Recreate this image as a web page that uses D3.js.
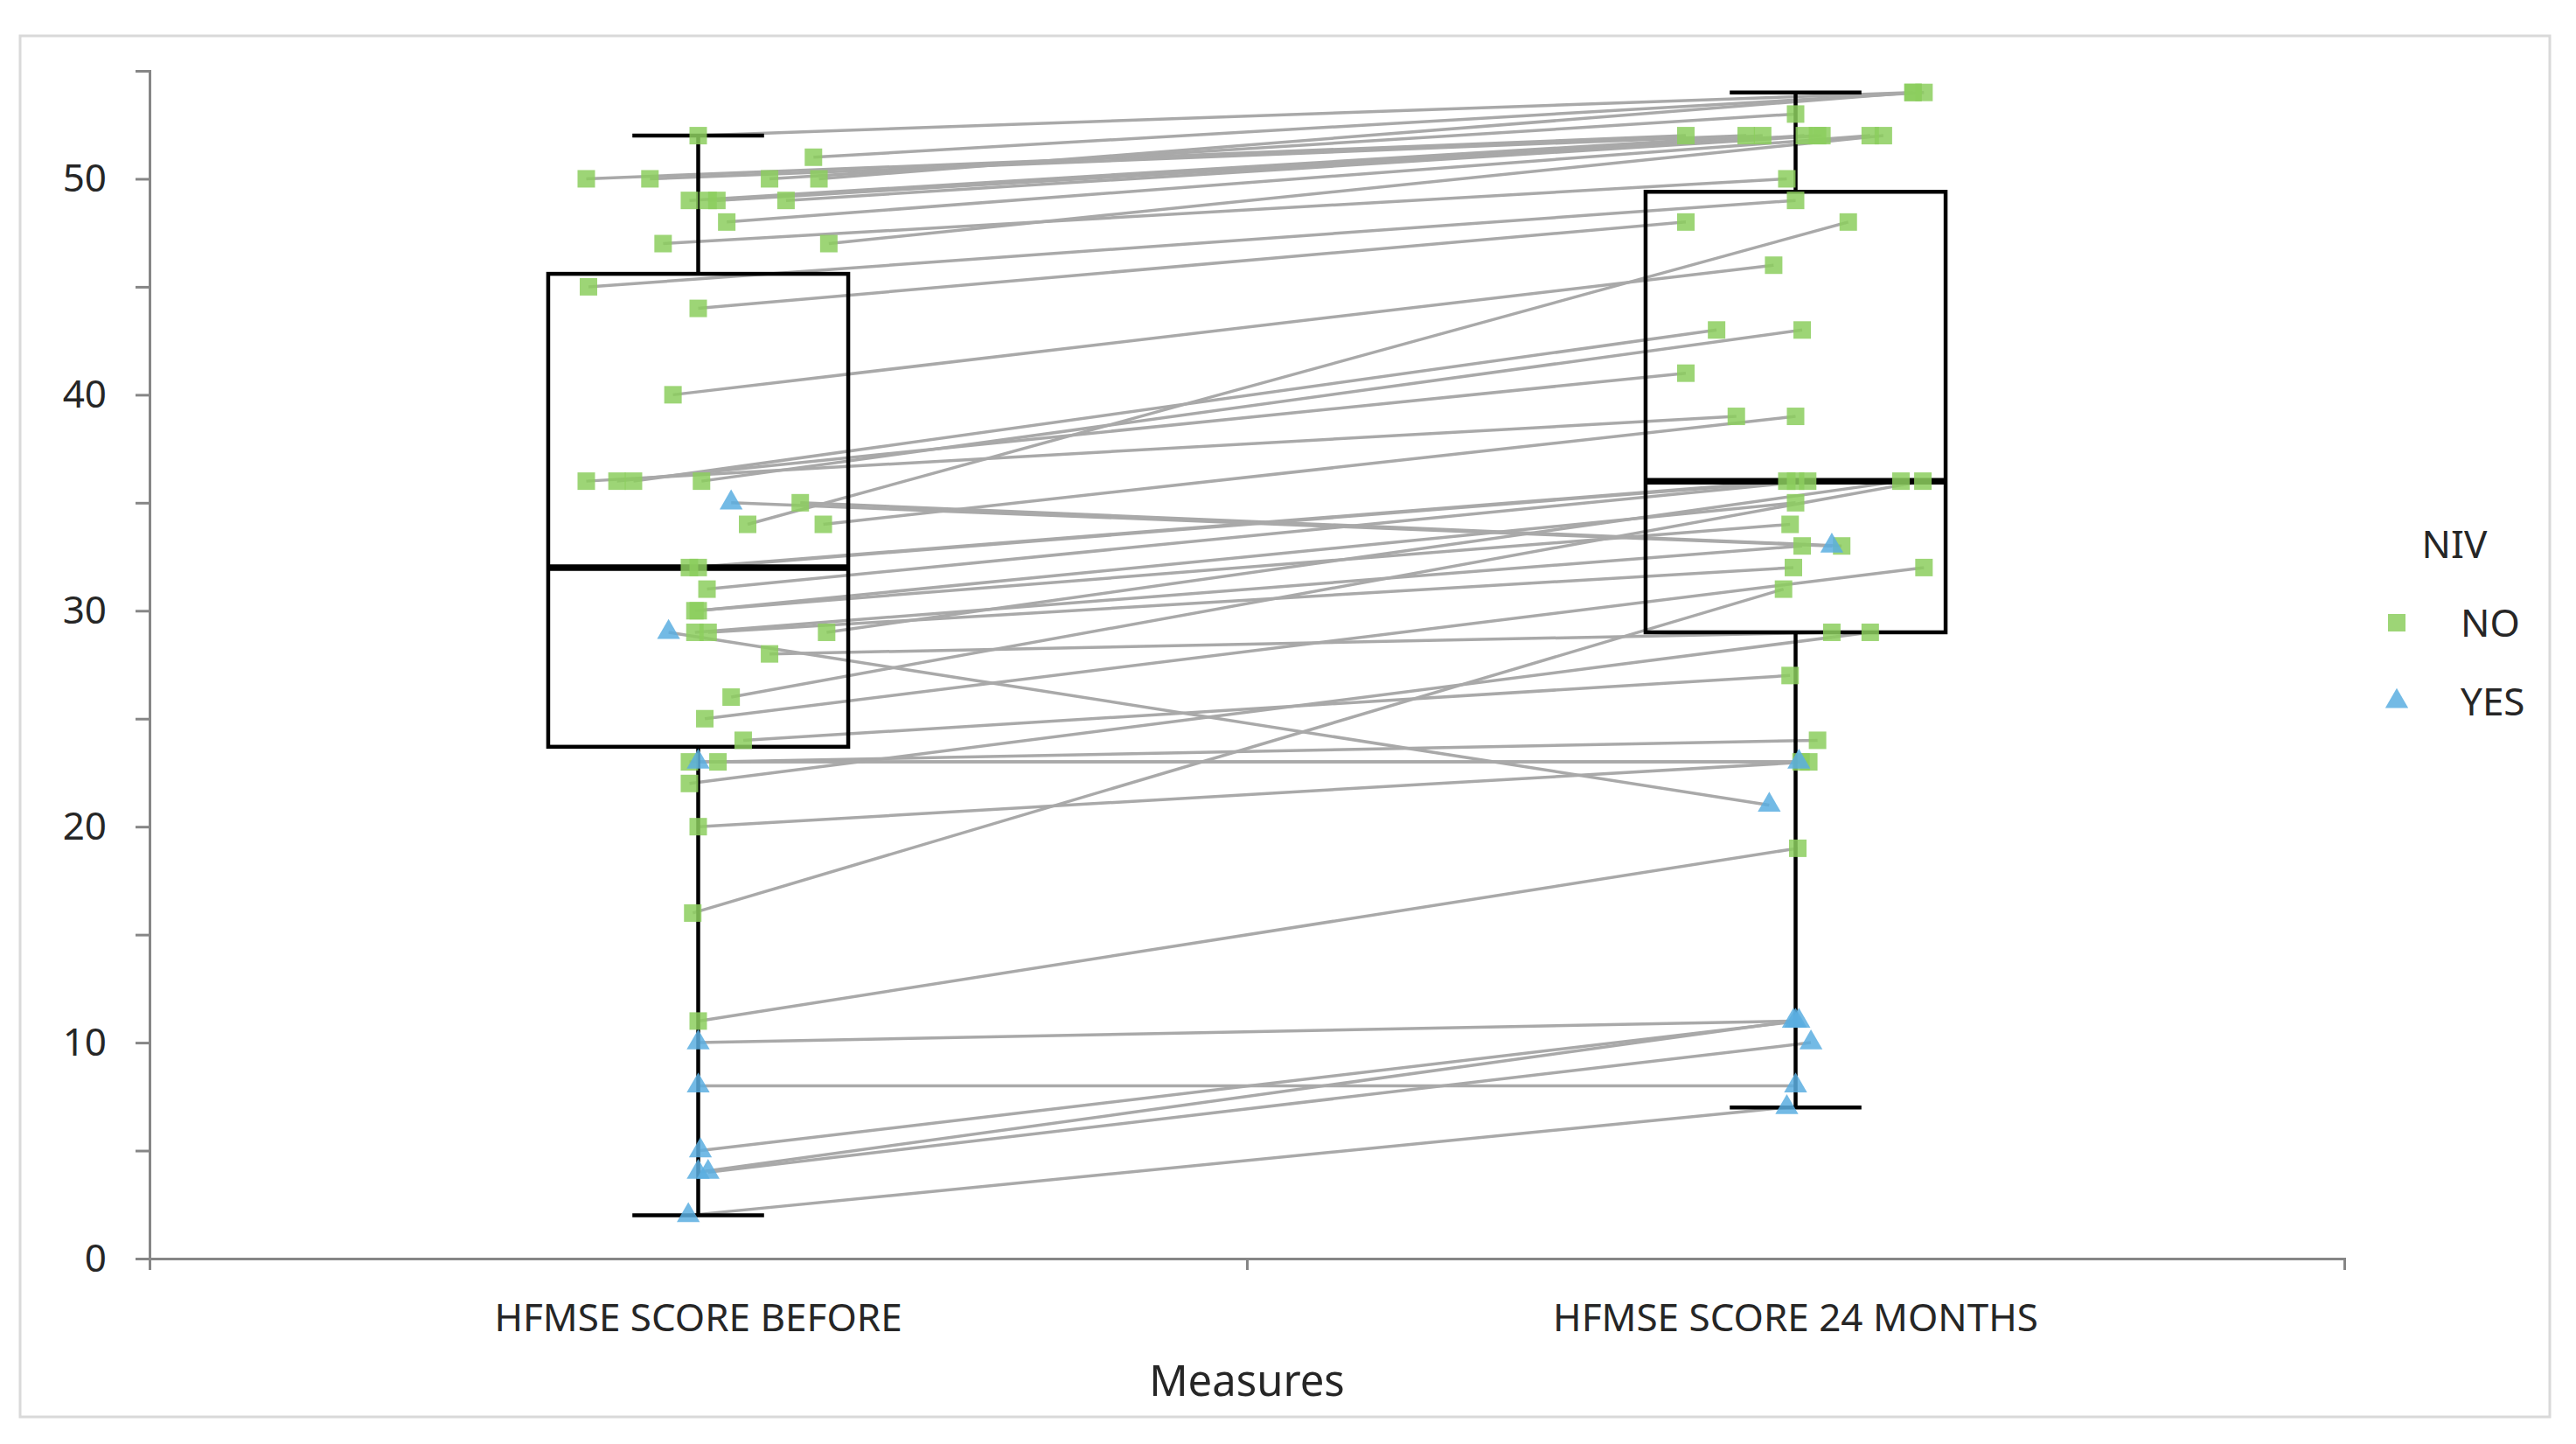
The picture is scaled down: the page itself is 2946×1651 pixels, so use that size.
<!DOCTYPE html>
<html>
<head>
<meta charset="utf-8">
<script src="https://cdn.jsdelivr.net/npm/d3@7"></script>
<style>
  html, body { margin: 0; padding: 0; background: #ffffff; }
  svg { display: block; font-family: "Noto Sans", "Open Sans", sans-serif; }
</style>
</head>
<body>
<svg id="chart" width="2946" height="1651"></svg>
<script>
// ---------------- data ----------------
const categories = ["HFMSE SCORE BEFORE", "HFMSE SCORE 24 MONTHS"];
const groups = ["NO", "YES"];
const yTicks = [0, 10, 20, 30, 40, 50];

// per-patient scores (before -> 24 months), NIV group, horizontal jitter (in category units)
const beforeScores = [52, 51, 50, 50, 50, 50, 49, 49, 49, 49, 48, 47, 47, 45, 44, 40, 36, 36, 36, 36,
  35, 34, 34, 32, 32, 31, 30, 30, 29, 29, 29, 28, 26, 25, 24, 23, 23, 22, 20, 16, 11,
  35, 29, 23, 10, 8, 5, 4, 4, 2];
const afterScores = [54, 54, 52, 52, 53, 54, 52, 52, 52, 52, 52, 50, 52, 49, 48, 46, 39, 41, 43, 43,
  33, 48, 39, 36, 36, 36, 35, 34, 33, 32, 36, 29, 36, 32, 27, 23, 24, 29, 23, 31, 19,
  33, 21, 23, 11, 8, 11, 11, 10, 7];
const nivGroup = ["NO", "NO", "NO", "NO", "NO", "NO", "NO", "NO", "NO", "NO", "NO", "NO", "NO", "NO", "NO", "NO", "NO", "NO", "NO", "NO",
  "NO", "NO", "NO", "NO", "NO", "NO", "NO", "NO", "NO", "NO", "NO", "NO", "NO", "NO", "NO", "NO", "NO", "NO", "NO", "NO", "NO",
  "YES", "YES", "YES", "YES", "YES", "YES", "YES", "YES", "YES"];
const jitterBefore = [0, .105, -.102, -.044, .065, .110, -.008, .009, .017, .080, .026, -.032, .119, -.100, 0, -.023, -.102, -.074, -.059, .003,
  .093, .045, .114, -.008, 0, .008, 0, -.003, -.003, .009, .117, .065, .030, .006, .041, -.008, .018, -.008, 0, -.005, 0,
  .030, -.027, 0, 0, 0, .002, 0, .009, -.009];
const jitterAfter = [.107, .117, -.100, -.045, 0, .107, -.030, .008, .020, .024, .068, -.008, .080, 0, -.100, -.020, -.054, -.100, -.072, .006,
  .042, .048, 0, -.008, 0, .011, 0, -.005, .006, -.002, .096, .033, .116, .117, -.005, .005, .020, .068, .012, -.011, .002,
  .033, -.024, .003, 0, 0, .003, -.002, .014, -.008];

// box plot summary
const boxMin = [2, 7];
const boxQ1 = [23.7, 29];
const boxMedian = [32, 36];
const boxQ3 = [45.6, 49.4];
const boxMax = [52, 54];

// ---------------- layout ----------------
const svg = d3.select("#chart");
const W = 2946, H = 1651;
const plot = { left: 171, right: 2681, top: 81, bottom: 1439 };

svg.append("rect").attr("x", 0).attr("y", 0).attr("width", W).attr("height", H).attr("fill", "#fff");
svg.append("rect").attr("x", 23).attr("y", 41).attr("width", 2893).attr("height", 1579)
  .attr("fill", "none").attr("stroke", "#d9d9d9").attr("stroke-width", 3);

const x = d3.scaleLinear().domain([0, categories.length]).range([plot.left, plot.right]);
const y = d3.scaleLinear().domain([0, 55]).range([plot.bottom, plot.top]);
const catX = i => x(i + 0.5);

const labelColor = "#262626";
const axisColor = "#868686";

// y axis
const yAxis = svg.append("g").attr("transform", `translate(${plot.left},0)`)
  .call(d3.axisLeft(y).tickValues(d3.range(0, 56, 5)).tickSize(16)
    .tickFormat(d => yTicks.includes(d) ? d : ""));
yAxis.select(".domain").attr("stroke", axisColor).attr("stroke-width", 3);
yAxis.selectAll(".tick line").attr("stroke", axisColor).attr("stroke-width", 3);
yAxis.selectAll(".tick text").attr("x", -49).attr("fill", labelColor)
  .attr("font-size", 44).attr("font-family", "Noto Sans, sans-serif");

// x axis
const xAxis = svg.append("g").attr("transform", `translate(0,${plot.bottom})`)
  .call(d3.axisBottom(x).tickValues(d3.range(0, categories.length + 1)).tickSize(13).tickFormat(""));
xAxis.select(".domain").attr("stroke", axisColor).attr("stroke-width", 3);
xAxis.selectAll(".tick line").attr("stroke", axisColor).attr("stroke-width", 3);

svg.append("g").selectAll("text").data(categories).join("text")
  .attr("x", (d, i) => catX(i)).attr("y", 1522)
  .attr("text-anchor", "middle").attr("font-size", 44).attr("fill", labelColor)
  .text(d => d);

svg.append("text").attr("x", (plot.left + plot.right) / 2).attr("y", 1596)
  .attr("text-anchor", "middle").attr("font-size", 49).attr("fill", labelColor)
  .text("Measures");

// ---------------- connecting lines ----------------
const pts = beforeScores.map((b, i) => ({
  b, a: afterScores[i], g: nivGroup[i], jb: jitterBefore[i], ja: jitterAfter[i]
}));

svg.append("g").selectAll("line").data(pts).join("line")
  .attr("x1", d => x(0.5 + d.jb)).attr("y1", d => y(d.b))
  .attr("x2", d => x(1.5 + d.ja)).attr("y2", d => y(d.a))
  .attr("stroke", "#a9a9a9").attr("stroke-width", 3.5);

// ---------------- box plots ----------------
const boxHalf = 0.1367, capHalf = 0.06;
const boxes = categories.map((c, i) => ({ i, min: boxMin[i], q1: boxQ1[i], med: boxMedian[i], q3: boxQ3[i], max: boxMax[i] }));
const bg = svg.append("g");
boxes.forEach(b => {
  const cx = b.i + 0.5;
  bg.append("line").attr("x1", x(cx)).attr("x2", x(cx)).attr("y1", y(b.q3)).attr("y2", y(b.max))
    .attr("stroke", "#000").attr("stroke-width", 4.5);
  bg.append("line").attr("x1", x(cx)).attr("x2", x(cx)).attr("y1", y(b.q1)).attr("y2", y(b.min))
    .attr("stroke", "#000").attr("stroke-width", 4.5);
  bg.append("line").attr("x1", x(cx - capHalf)).attr("x2", x(cx + capHalf)).attr("y1", y(b.max)).attr("y2", y(b.max))
    .attr("stroke", "#000").attr("stroke-width", 4.5);
  bg.append("line").attr("x1", x(cx - capHalf)).attr("x2", x(cx + capHalf)).attr("y1", y(b.min)).attr("y2", y(b.min))
    .attr("stroke", "#000").attr("stroke-width", 4.5);
  bg.append("rect").attr("x", x(cx - boxHalf)).attr("y", y(b.q3))
    .attr("width", x(cx + boxHalf) - x(cx - boxHalf)).attr("height", y(b.q1) - y(b.q3))
    .attr("fill", "none").attr("stroke", "#000").attr("stroke-width", 4.5);
  bg.append("line").attr("x1", x(cx - boxHalf)).attr("x2", x(cx + boxHalf)).attr("y1", y(b.med)).attr("y2", y(b.med))
    .attr("stroke", "#000").attr("stroke-width", 7.5);
});

// ---------------- points ----------------
const green = "#8cce5e", blue = "#5aaee0";
const sq = d3.symbol().type(d3.symbolSquare).size(400);
const tri = d3.symbol().type(d3.symbolTriangle).size(300);
const shape = g => g === "NO" ? sq() : tri();
const color = g => g === "NO" ? green : blue;

const pointData = [];
pts.forEach(d => {
  pointData.push({ cx: 0.5 + d.jb, v: d.b, g: d.g });
  pointData.push({ cx: 1.5 + d.ja, v: d.a, g: d.g });
});
svg.append("g").selectAll("path").data(pointData).join("path")
  .attr("transform", d => `translate(${x(d.cx)},${y(d.v)})`)
  .attr("d", d => shape(d.g))
  .attr("fill", d => color(d.g)).attr("fill-opacity", 0.85);

// ---------------- legend ----------------
const lg = svg.append("g");
lg.append("text").attr("x", 2807).attr("y", 638).attr("text-anchor", "middle")
  .attr("font-size", 44).attr("fill", labelColor).text("NIV");
groups.forEach((g, i) => {
  const yy = 712 + i * 90;
  lg.append("path").attr("transform", `translate(2741,${yy})`).attr("d", shape(g))
    .attr("fill", color(g)).attr("fill-opacity", 0.85);
  lg.append("text").attr("x", 2814).attr("y", yy + 16).attr("font-size", 44)
    .attr("fill", labelColor).text(g);
});
</script>
</body>
</html>
